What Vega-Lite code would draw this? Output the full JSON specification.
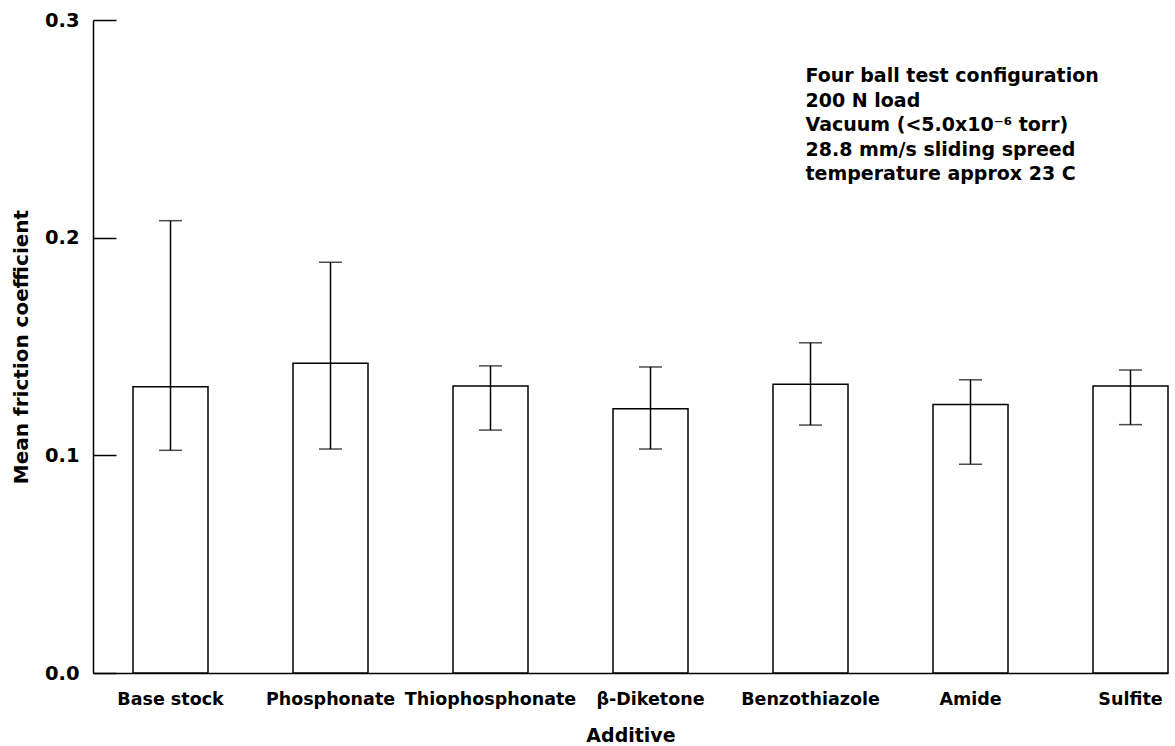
{
  "$schema": "https://vega.github.io/schema/vega-lite/v6.json",
  "width": 1075,
  "height": 653,
  "autosize": {"type": "none"},
  "padding": {"left": 93, "top": 20, "right": 7, "bottom": 73},
  "background": "white",
  "config": {"view": {"stroke": null}, "font": "DejaVu Sans"},
  "data": {
    "values": [
      {"additive": "Base stock", "mean": 0.1315, "lo": 0.1023, "hi": 0.2078},
      {"additive": "Phosphonate", "mean": 0.1423, "lo": 0.1029, "hi": 0.1887},
      {"additive": "Thiophosphonate", "mean": 0.1318, "lo": 0.1116, "hi": 0.1411},
      {"additive": "β-Diketone", "mean": 0.1214, "lo": 0.1029, "hi": 0.1406},
      {"additive": "Benzothiazole", "mean": 0.1326, "lo": 0.1139, "hi": 0.1517},
      {"additive": "Amide", "mean": 0.1234, "lo": 0.0959, "hi": 0.1347},
      {"additive": "Sulfite", "mean": 0.1318, "lo": 0.1141, "hi": 0.1392}
    ]
  },
  "layer": [
    {
      "mark": {"type": "bar", "fill": "white", "stroke": "black", "strokeWidth": 1.5},
      "encoding": {
        "x": {
          "field": "additive", "type": "nominal", "sort": null, "title": "Additive",
          "scale": {"paddingInner": 0.53125, "paddingOuter": 0.125, "align": 1},
          "axis": {
            "labelAngle": 0, "ticks": false, "labelFontSize": 17.5, "labelFontWeight": "bold",
            "labelColor": "black", "labelPadding": 17, "labelOverlap": false,
            "domainColor": "black", "domainWidth": 1.5,
            "titleFontSize": 19, "titleFontWeight": "bold", "titleColor": "black", "titlePadding": 19
          }
        },
        "y": {
          "field": "mean", "type": "quantitative", "title": "Mean friction coefficient",
          "scale": {"domain": [0, 0.3], "nice": false},
          "axis": {
            "values": [0, 0.1, 0.2, 0.3], "format": ".1f", "grid": false,
            "tickSize": -23, "tickColor": "black", "tickWidth": 1.5,
            "labelPadding": 37, "labelFontSize": 19.5, "labelFontWeight": "bold", "labelColor": "black",
            "labelFlush": false,
            "domainColor": "black", "domainWidth": 1.5,
            "titleFontSize": 20, "titleFontWeight": "bold", "titleColor": "black", "titlePadding": 13
          }
        }
      }
    },
    {
      "mark": {"type": "rule", "stroke": "black", "strokeWidth": 1.5},
      "encoding": {
        "x": {"field": "additive", "type": "nominal", "sort": null, "title": "Additive"},
        "y": {"field": "lo", "type": "quantitative", "title": "Mean friction coefficient"},
        "y2": {"field": "hi"}
      }
    },
    {
      "mark": {"type": "tick", "color": "black", "thickness": 1.5, "size": 23},
      "encoding": {
        "x": {"field": "additive", "type": "nominal", "sort": null, "title": "Additive"},
        "y": {"field": "lo", "type": "quantitative", "title": "Mean friction coefficient"}
      }
    },
    {
      "mark": {"type": "tick", "color": "black", "thickness": 1.5, "size": 23},
      "encoding": {
        "x": {"field": "additive", "type": "nominal", "sort": null, "title": "Additive"},
        "y": {"field": "hi", "type": "quantitative", "title": "Mean friction coefficient"}
      }
    },
    {
      "data": {"values": [{}]},
      "mark": {"type": "text", "align": "left", "baseline": "alphabetic", "fontSize": 19, "fontWeight": "bold", "lineHeight": 24.5, "dx": -5, "color": "black"},
      "encoding": {
        "x": {"datum": "Benzothiazole"},
        "y": {"datum": 0.2715},
        "text": {"value": ["Four ball test configuration", "200 N load", "Vacuum (<5.0x10⁻⁶ torr)", "28.8 mm/s sliding spreed", "temperature approx 23 C"]}
      }
    }
  ]
}
